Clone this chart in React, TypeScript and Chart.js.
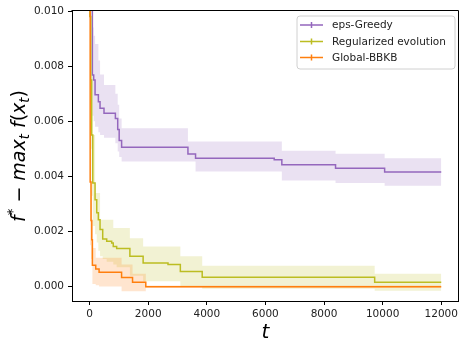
import React, { useEffect, useRef } from 'react';
import { Chart, registerables } from 'chart.js';

Chart.register(...registerables);

// ---------- data ----------
const xTicks = [0, 2000, 4000, 6000, 8000, 10000, 12000];
const yTicks = [0, 0.002, 0.004, 0.006, 0.008, 0.01];

const greedyT = [0, 95, 140, 187, 300, 357, 492, 880, 960, 1010, 1093, 3356, 3616, 6300, 6560, 8393, 10068, 12000];
const greedyMean = [0.03, 0.00768, 0.0075, 0.00696, 0.00671, 0.00647, 0.00629, 0.0061, 0.0057, 0.0053, 0.00506, 0.00481, 0.00466, 0.0046, 0.00442, 0.0043, 0.00416, 0.00416];
const greedyUpper = [0.04, 0.0094, 0.0091, 0.0088, 0.0082, 0.0077, 0.00732, 0.007, 0.0066, 0.0061, 0.00575, 0.00527, 0.00527, 0.00527, 0.00493, 0.00482, 0.00466, 0.00466];
const greedyLower = [0.02, 0.0062, 0.006, 0.0058, 0.0056, 0.0055, 0.0054, 0.0052, 0.0049, 0.0047, 0.00454, 0.00454, 0.00418, 0.00418, 0.00385, 0.00376, 0.00366, 0.00366];

const evoT = [0, 10, 40, 70, 109, 187, 244, 299, 357, 448, 584, 754, 808, 924, 1375, 1827, 2676, 3097, 3843, 9728, 12000];
const evoMean = [0.03, 0.0098, 0.0075, 0.0055, 0.00376, 0.00315, 0.00268, 0.00243, 0.00207, 0.00173, 0.00165, 0.00158, 0.00146, 0.00138, 0.0011, 0.00086, 0.0008, 0.00055, 0.00034, 0.000157, 0.000157];
const evoUpper = [0.04, 0.013, 0.01, 0.0078, 0.0055, 0.0034, 0.0034, 0.0034, 0.00243, 0.00243, 0.00243, 0.00243, 0.00213, 0.00213, 0.00176, 0.00146, 0.00146, 0.0011, 0.00076, 0.00047, 0.00047];
const evoLower = [0.02, 0.0066, 0.005, 0.0033, 0.0022, 0.0019, 0.0016, 0.0013, 0.0011, 0.001, 0.0009, 0.0009, 0.0008, 0.0007, 0.0004, 0.0002, 0.0002, 0.0, -0.00008, -0.00015, -0.00015];

const bbkbT = [0, 20, 50, 75, 96, 210, 324, 1092, 1466, 1918, 12000];
const bbkbMean = [0.03, 0.0038, 0.0024, 0.0017, 0.00078, 0.00064, 0.00052, 0.00033, 0.00016, 0.0, 0.0];
const bbkbUpper = [0.04, 0.006, 0.0035, 0.0024, 0.0014, 0.00105, 0.00105, 0.0008, 0.00047, 0.00004, 0.00004];
const bbkbLower = [0.02, 0.0015, 0.001, 0.0008, 0.0001, 0.00005, 0.00001, -0.00017, -0.00017, -0.00004, -0.00004];

const seriesNames = ['eps-Greedy', 'Regularized evolution', 'Global-BBKB'];
const seriesColors = ['#9467bd', '#bcbd22', '#ff7f0e'];

// ---------- helpers ----------
const pts = (t: number[], v: number[]) => t.map((x, i) => ({ x, y: v[i] }));
const rgba = (hex: string, a: number) => {
  const n = parseInt(hex.slice(1), 16);
  return `rgba(${(n >> 16) & 255},${(n >> 8) & 255},${n & 255},${a})`;
};

const FONT = '"DejaVu Sans", sans-serif';
// Chart.js 'before' = hold previous value until next x (matplotlib steps-post)
const STEP = 'before';

const bandSets = (t: number[], up: number[], lo: number[], color: string, order: number) => [
  {
    data: pts(t, up), stepped: STEP, borderColor: 'rgba(0,0,0,0)', borderWidth: 0,
    pointRadius: 0, backgroundColor: rgba(color, 0.2), fill: '+1', order,
  },
  {
    data: pts(t, lo), stepped: STEP, borderColor: 'rgba(0,0,0,0)', borderWidth: 0,
    pointRadius: 0, fill: false, order,
  },
];

const lineSet = (t: number[], m: number[], color: string, order: number) => ({
  data: pts(t, m), stepped: STEP, borderColor: color, borderWidth: 1.5,
  pointRadius: 0, fill: false, order,
});

type Piece = { s: string; it?: boolean; sub?: boolean; sup?: boolean };

function drawMath(ctx: CanvasRenderingContext2D, pieces: Piece[], size: number) {
  const fontFor = (p: Piece) => {
    const sz = p.sub || p.sup ? size * 0.7 : size;
    return `${p.it ? 'italic ' : ''}${sz}px ${FONT}`;
  };
  let total = 0;
  for (const p of pieces) { ctx.font = fontFor(p); total += ctx.measureText(p.s).width; }
  let x = -total / 2;
  ctx.textAlign = 'left';
  ctx.textBaseline = 'alphabetic';
  for (const p of pieces) {
    ctx.font = fontFor(p);
    const dy = p.sub ? size * 0.22 : p.sup ? -size * 0.4 : 0;
    ctx.fillText(p.s, x, dy);
    x += ctx.measureText(p.s).width;
  }
}

const decorPlugin = {
  id: 'decor',
  afterDraw(chart: any) {
    const { ctx, chartArea: a } = chart;
    ctx.save();
    // spines top/right
    ctx.strokeStyle = '#000';
    ctx.lineWidth = 1;
    ctx.beginPath();
    ctx.moveTo(Math.round(a.left) - 0.5, Math.round(a.top) - 0.5);
    ctx.lineTo(Math.round(a.right) - 0.5, Math.round(a.top) - 0.5);
    ctx.lineTo(Math.round(a.right) - 0.5, Math.round(a.bottom) + 0.5);
    ctx.stroke();

    // legend
    const lx = 297, ly = 16, lw = 158, lh = 53, r = 3;
    ctx.beginPath();
    ctx.moveTo(lx + r, ly);
    ctx.arcTo(lx + lw, ly, lx + lw, ly + lh, r);
    ctx.arcTo(lx + lw, ly + lh, lx, ly + lh, r);
    ctx.arcTo(lx, ly + lh, lx, ly, r);
    ctx.arcTo(lx, ly, lx + lw, ly, r);
    ctx.closePath();
    ctx.fillStyle = 'rgba(255,255,255,0.8)';
    ctx.fill();
    ctx.strokeStyle = '#d0d0d0';
    ctx.stroke();
    const rows = [25, 41.5, 57.5];
    seriesNames.forEach((name, i) => {
      const y = rows[i];
      ctx.strokeStyle = seriesColors[i];
      ctx.lineWidth = 1.5;
      ctx.beginPath();
      ctx.moveTo(300, y);
      ctx.lineTo(323, y);
      ctx.moveTo(311.5, y - 3);
      ctx.lineTo(311.5, y + 3);
      ctx.stroke();
      ctx.fillStyle = '#222';
      ctx.font = `10.5px ${FONT}`;
      ctx.textAlign = 'left';
      ctx.textBaseline = 'middle';
      ctx.fillText(name, 332, y + 0.5);
    });

    // axis titles
    ctx.fillStyle = '#000';
    ctx.save();
    ctx.translate((a.left + a.right) / 2, 338);
    drawMath(ctx, [{ s: 't', it: true }], 20);
    ctx.restore();

    ctx.save();
    ctx.translate(25, (a.top + a.bottom) / 2);
    ctx.rotate(-Math.PI / 2);
    drawMath(ctx, [
      { s: 'f', it: true },
      { s: '*', sup: true },
      { s: ' \u2212 ' },
      { s: 'max', it: true },
      { s: 't', it: true, sub: true },
      { s: ' f', it: true },
      { s: '(' },
      { s: 'x', it: true },
      { s: 't', it: true, sub: true },
      { s: ')' },
    ], 19);
    ctx.restore();
    ctx.restore();
  },
};

export default function App() {
  const ref = useRef<HTMLCanvasElement | null>(null);
  useEffect(() => {
    if (!ref.current) return;
    const chart = new Chart(ref.current, {
      type: 'line',
      data: {
        datasets: [
          lineSet(bbkbT, bbkbMean, seriesColors[2], 0),
          lineSet(evoT, evoMean, seriesColors[1], 1),
          lineSet(greedyT, greedyMean, seriesColors[0], 2),
          ...bandSets(bbkbT, bbkbUpper, bbkbLower, seriesColors[2], 3),
          ...bandSets(evoT, evoUpper, evoLower, seriesColors[1], 4),
          ...bandSets(greedyT, greedyUpper, greedyLower, seriesColors[0], 5),
        ] as any,
      },
      options: {
        animation: false,
        responsive: false,
        devicePixelRatio: 1,
        layout: { padding: { top: 11, right: 1, left: 0, bottom: 0 } },
        plugins: {
          legend: { display: false },
          tooltip: { enabled: false },
          filler: { drawTime: 'beforeDatasetsDraw' },
        } as any,
        scales: {
          x: {
            type: 'linear',
            min: -600,
            max: 12600,
            afterBuildTicks: (ax: any) => { ax.ticks = xTicks.map((v) => ({ value: v })); },
            afterFit: (ax: any) => { ax.height = 39; },
            grid: { drawOnChartArea: false, drawTicks: true, tickLength: 4, color: '#000', lineWidth: 1 },
            border: { display: true, color: '#000', width: 1 },
            ticks: {
              color: '#222', font: { family: FONT, size: 10.5 }, padding: 3, maxRotation: 0,
              callback: (v: any) => String(v),
            },
          },
          y: {
            type: 'linear',
            min: -0.00052,
            max: 0.01,
            afterBuildTicks: (ax: any) => { ax.ticks = yTicks.map((v) => ({ value: v })); },
            afterFit: (ax: any) => { ax.width = 72; },
            grid: { drawOnChartArea: false, drawTicks: true, tickLength: 4, color: '#000', lineWidth: 1 },
            border: { display: true, color: '#000', width: 1 },
            ticks: {
              color: '#222', font: { family: FONT, size: 10.5 }, padding: 4,
              callback: (v: any) => Number(v).toFixed(3),
            },
          },
        },
      } as any,
      plugins: [decorPlugin],
    });
    return () => chart.destroy();
  }, []);
  return (
    <div style={{ position: 'fixed', left: 0, top: 0, width: 461, height: 340, background: '#fff' }}>
      <canvas ref={ref} width={461} height={340} style={{ width: 461, height: 340, display: 'block' }} />
    </div>
  );
}
